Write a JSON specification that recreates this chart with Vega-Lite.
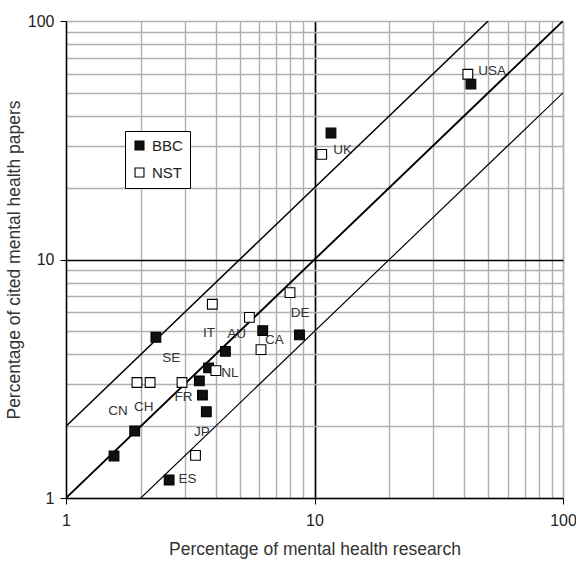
{
  "$schema": "https://vega.github.io/schema/vega-lite/v6.json",
  "width": 497,
  "height": 477,
  "autosize": "none",
  "padding": {"left": 66, "top": 21, "right": 13, "bottom": 65},
  "background": "white",
  "config": {
    "font": "Liberation Sans",
    "view": {"stroke": null},
    "axis": {"labelFont": "Liberation Sans", "titleFont": "Liberation Sans"}
  },
  "datasets": {
    "lines": [
      {"line": "1:1", "x": 1, "y": 1},
      {"line": "1:1", "x": 100, "y": 100},
      {"line": "2:1", "x": 1, "y": 2},
      {"line": "2:1", "x": 50, "y": 100},
      {"line": "1:2", "x": 2, "y": 1},
      {"line": "1:2", "x": 100, "y": 50}
    ],
    "points": [
      {"country": "USA", "source": "BBC", "research": 42.6, "cited": 54.4},
      {"country": "UK", "source": "BBC", "research": 11.65, "cited": 33.9},
      {"country": "SE", "source": "BBC", "research": 2.3, "cited": 4.72},
      {"country": "AU", "source": "BBC", "research": 4.38, "cited": 4.12},
      {"country": "CA", "source": "BBC", "research": 6.19, "cited": 5.03},
      {"country": "DE", "source": "BBC", "research": 8.7, "cited": 4.83},
      {"country": "NL", "source": "BBC", "research": 3.75, "cited": 3.51},
      {"country": "IT", "source": "BBC", "research": 3.44, "cited": 3.1},
      {"country": "FR", "source": "BBC", "research": 3.54, "cited": 2.7},
      {"country": "JP", "source": "BBC", "research": 3.67, "cited": 2.3},
      {"country": "CH", "source": "BBC", "research": 1.89, "cited": 1.91},
      {"country": "CN", "source": "BBC", "research": 1.56, "cited": 1.5},
      {"country": "ES", "source": "BBC", "research": 2.6, "cited": 1.19},
      {"country": "USA", "source": "NST", "research": 41.4, "cited": 59.8},
      {"country": "UK", "source": "NST", "research": 10.69, "cited": 27.6},
      {"country": "DE", "source": "NST", "research": 7.97, "cited": 7.26},
      {"country": "IT", "source": "NST", "research": 3.88, "cited": 6.49},
      {"country": "AU", "source": "NST", "research": 5.47, "cited": 5.72},
      {"country": "CA", "source": "NST", "research": 6.09, "cited": 4.19},
      {"country": "NL", "source": "NST", "research": 4.01, "cited": 3.42},
      {"country": "CN", "source": "NST", "research": 1.93, "cited": 3.05},
      {"country": "SE", "source": "NST", "research": 2.18, "cited": 3.05},
      {"country": "FR", "source": "NST", "research": 2.93, "cited": 3.05},
      {"country": "JP", "source": "NST", "research": 3.32, "cited": 1.51}
    ],
    "labels": [
      {"label": "USA", "x": 51.8, "y": 61.9},
      {"label": "UK", "x": 12.99, "y": 28.8},
      {"label": "DE", "x": 8.75, "y": 5.95},
      {"label": "CA", "x": 6.89, "y": 4.58},
      {"label": "AU", "x": 4.86, "y": 4.86},
      {"label": "IT", "x": 3.76, "y": 4.93},
      {"label": "SE", "x": 2.65, "y": 3.85},
      {"label": "NL", "x": 4.57, "y": 3.35},
      {"label": "FR", "x": 2.97, "y": 2.64},
      {"label": "CH", "x": 2.055, "y": 2.41},
      {"label": "CN", "x": 1.62, "y": 2.31},
      {"label": "JP", "x": 3.52, "y": 1.9},
      {"label": "ES", "x": 3.08, "y": 1.2}
    ]
  },
  "layer": [
    {
      "data": {"name": "lines"},
      "mark": {"type": "line", "color": "black", "clip": true},
      "encoding": {
        "x": {
          "field": "x", "type": "quantitative",
          "scale": {"type": "log", "domain": [1, 100], "nice": false},
          "axis": {
            "title": "Percentage of mental health research",
            "values": [1,2,3,4,5,6,7,8,9,10,20,30,40,50,60,70,80,90,100],
            "labelExpr": "(datum.value == 1 || datum.value == 10 || datum.value == 100) ? datum.value : ''",
            "grid": true,
            "gridColor": {"condition": {"test": "datum.value == 10", "value": "black"}, "value": "#afafaf"},
            "gridWidth": {"condition": {"test": "datum.value == 10 || datum.value == 100", "value": 1.7}, "value": 1.4},
            "tickColor": {"condition": {"test": "datum.value == 1 || datum.value == 10 || datum.value == 100", "value": "black"}, "value": "transparent"},
            "tickSize": 6,
            "domainColor": "black",
            "domainWidth": 1.5,
            "labelFontSize": 16,
            "labelColor": "#222",
            "labelPadding": 8,
            "labelFlush": false,
            "labelOverlap": false,
            "titleFontSize": 17.5,
            "titleFontWeight": "normal",
            "titleColor": "#333",
            "titlePadding": 12
          }
        },
        "y": {
          "field": "y", "type": "quantitative",
          "scale": {"type": "log", "domain": [1, 100], "nice": false},
          "axis": {
            "title": "Percentage of cited mental health papers",
            "values": [1,2,3,4,5,6,7,8,9,10,20,30,40,50,60,70,80,90,100],
            "labelExpr": "(datum.value == 1 || datum.value == 10 || datum.value == 100) ? datum.value : ''",
            "grid": true,
            "gridColor": {"condition": {"test": "datum.value == 10", "value": "black"}, "value": "#afafaf"},
            "gridWidth": {"condition": {"test": "datum.value == 10", "value": 1.7}, "value": 1.4},
            "tickColor": {"condition": {"test": "datum.value == 1 || datum.value == 10 || datum.value == 100", "value": "black"}, "value": "transparent"},
            "tickSize": 6,
            "domainColor": "black",
            "domainWidth": 1.5,
            "labelFontSize": 16,
            "labelColor": "#222",
            "labelPadding": 6,
            "labelOverlap": false,
            "labelFlush": false,
            "titleFontSize": 17.5,
            "titleFontWeight": "normal",
            "titleColor": "#333",
            "titlePadding": 4
          }
        },
        "detail": {"field": "line"},
        "strokeWidth": {
          "field": "line", "type": "nominal",
          "scale": {"domain": ["1:1", "2:1", "1:2"], "range": [1.9, 1.15, 1.15]},
          "legend": null
        }
      }
    },
    {
      "data": {"name": "points"},
      "mark": {"type": "point", "shape": "square", "filled": true, "size": 95, "stroke": "black", "strokeWidth": 1.1, "opacity": 1},
      "encoding": {
        "x": {"field": "research", "type": "quantitative"},
        "y": {"field": "cited", "type": "quantitative"},
        "fill": {
          "field": "source", "type": "nominal",
          "scale": {"domain": ["BBC", "NST"], "range": ["#111111", "white"]},
          "legend": {
            "title": null,
            "orient": "none",
            "legendX": 59,
            "legendY": 110,
            "fillColor": "white",
            "strokeColor": "black",
            "padding": 7,
            "symbolType": "square",
            "symbolSize": 80,
            "symbolStrokeColor": "black",
            "symbolStrokeWidth": 1.1,
            "labelFontSize": 15,
            "labelColor": "#222",
            "labelFont": "Liberation Sans",
            "labelOffset": 5,
            "rowPadding": 11
          }
        }
      }
    },
    {
      "data": {"name": "labels"},
      "mark": {"type": "text", "fontSize": 13.5, "color": "#333", "font": "Liberation Sans"},
      "encoding": {
        "x": {"field": "x", "type": "quantitative"},
        "y": {"field": "y", "type": "quantitative"},
        "text": {"field": "label"}
      }
    }
  ]
}
